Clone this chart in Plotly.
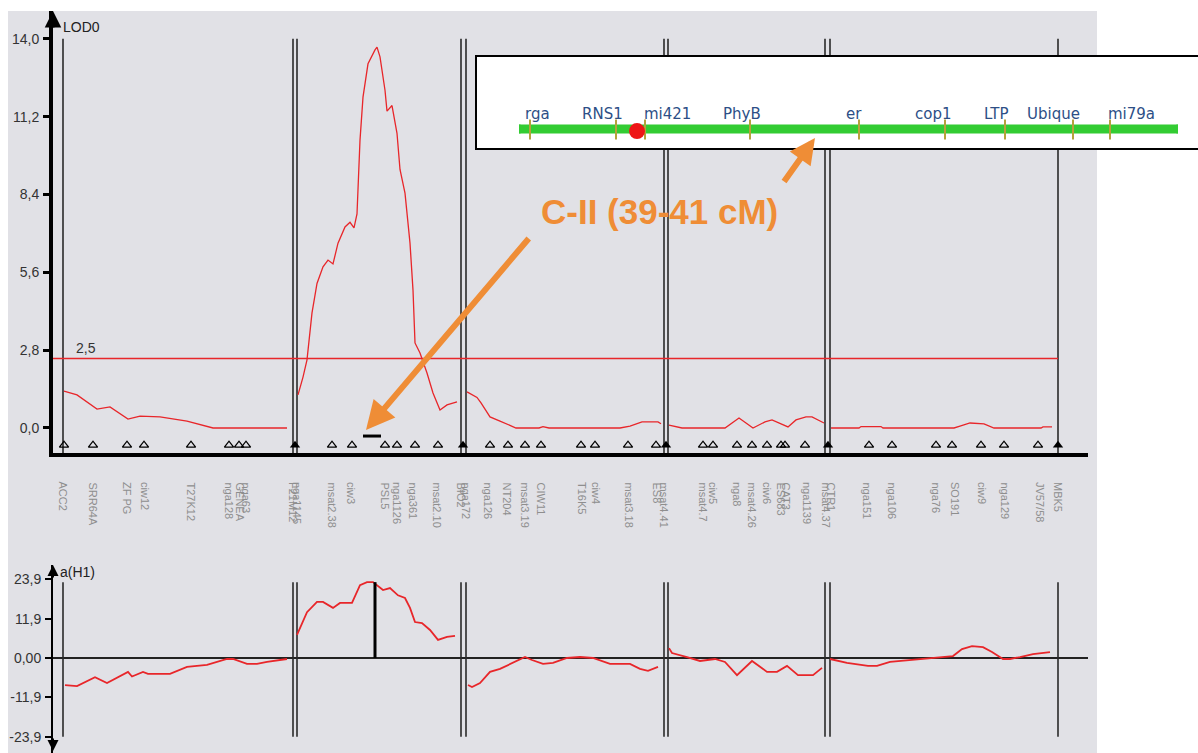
import plotly.graph_objects as go

W, H = 1198, 753

# ---------------- data ----------------
# chromosome (linkage group) extents on cumulative position scale
lg_start = [63, 297, 466, 668, 830]
lg_end = [293, 461, 664, 825, 1058]

# LOD profile per linkage group (position, LOD)
lod_pos = [
    [64, 77, 97, 110, 128, 140, 160, 187, 213, 287],
    [298, 303, 307, 312, 317, 323, 328, 333, 338, 345, 350, 354, 357, 360, 363, 368, 375, 377, 380,
     385, 387, 392, 397, 400, 405, 410, 413, 415, 420, 427, 433, 440, 447, 457],
    [467, 477, 481, 490, 500, 516, 539, 543, 549, 620, 630, 642, 658, 661],
    [669, 682, 725, 739, 753, 765, 772, 788, 796, 806, 812, 824],
    [831, 859, 861, 881, 883, 954, 960, 970, 984, 994, 1041, 1043, 1052],
]
lod_val = [
    [1.33, 1.19, 0.68, 0.76, 0.32, 0.43, 0.40, 0.25, 0.0, 0.0],
    [1.19, 1.83, 2.45, 4.14, 5.20, 5.80, 6.04, 5.90, 6.65, 7.23, 7.40, 7.20, 7.70, 10.35, 11.90, 13.10,
     13.60, 13.70, 13.35, 12.15, 11.40, 11.60, 10.60, 9.30, 8.45, 6.65, 4.96, 3.06, 2.70, 1.98, 1.26,
     0.65, 0.83, 0.94],
    [1.30, 1.10, 0.90, 0.40, 0.25, 0.0, 0.0, 0.05, 0.0, 0.0, 0.07, 0.22, 0.22, 0.15],
    [0.10, 0.0, 0.0, 0.36, 0.0, 0.22, 0.29, 0.04, 0.29, 0.40, 0.40, 0.18],
    [0.0, 0.0, 0.05, 0.05, 0.0, 0.0, 0.07, 0.18, 0.15, 0.0, 0.0, 0.04, 0.04],
]
lod_threshold = 2.5

# additive effect a(H1) per linkage group
eff_pos = [
    [65, 77, 95, 107, 128, 132, 143, 148, 170, 187, 207, 227, 233, 247, 257, 267, 287],
    [297, 307, 317, 323, 333, 340, 352, 355, 360, 367, 373, 383, 390, 398, 405, 410, 415, 422, 430,
     438, 447, 455],
    [468, 472, 480, 490, 500, 513, 525, 532, 543, 553, 567, 580, 593, 610, 630, 640, 648, 658],
    [669, 672, 687, 700, 715, 725, 737, 752, 767, 777, 787, 798, 813, 822],
    [830, 847, 868, 877, 890, 913, 927, 947, 953, 962, 972, 983, 992, 1003, 1010, 1020, 1033, 1050],
]
eff_val = [
    [-8.2, -8.5, -5.8, -7.6, -4.2, -5.6, -4.2, -4.8, -4.8, -2.7, -2.1, -0.3, -0.3, -1.8, -1.8, -1.2, -0.3],
    [7.0, 13.9, 17.0, 17.0, 15.2, 16.7, 16.7, 18.8, 22.1, 23.0, 23.0, 20.6, 21.2, 19.0, 18.2, 15.2,
     10.9, 10.6, 8.5, 5.5, 6.4, 6.7],
    [-8.2, -8.8, -7.6, -4.2, -3.3, -1.5, 0.3, -0.6, -1.8, -1.5, 0.0, 0.3, 0.0, -1.8, -1.8, -3.3, -3.9, -2.7],
    [3.0, 1.5, 0.3, -0.9, -0.3, -1.2, -5.2, -0.9, -4.2, -4.2, -2.4, -5.2, -5.2, -3.0],
    [-0.3, -1.5, -2.4, -2.4, -1.2, -0.6, -0.3, 0.3, 0.6, 2.7, 3.6, 3.3, 1.8, -0.3, -0.3, 0.3, 1.2, 1.8],
]

# markers on the map axis
marker_pos = [64, 93, 127, 144, 191, 229, 239, 246, 332, 352, 385, 397, 415, 438, 490, 508, 525, 541,
              581, 595, 628, 656, 703, 713, 737, 752, 767, 781, 785, 805, 869, 892, 936, 952, 981,
              1004, 1038]
boundary_marker_pos = [295, 463, 666, 828, 1058]
marker_label_pos = [63, 93, 127, 145, 191, 229, 240, 246, 293, 297, 332, 351, 385, 397, 413, 437,
                    461, 466, 488, 507, 525, 541, 582, 596, 629, 657, 664, 703, 713, 737, 752, 767,
                    781, 786, 807, 826, 831, 867, 892, 936, 955, 982, 1005, 1040, 1058]
marker_label = ["ACC2", "SRR64A", "ZF PG", "ciw12", "T27K12", "nga128", "GENEA", "nga63",
                "F21M12", "nga1145", "msat2.38", "ciw3", "PSL5", "nga1126", "nga361", "msat2.10",
                "BIO2", "nga172", "nga126", "NT204", "msat3.19", "CIW11", "T16K5", "ciw4",
                "msat3.18", "ES8", "msat4.41", "msat4.7", "ciw5", "nga8", "msat4.26", "ciw6",
                "ES683", "CAT3", "nga1139", "msat4.37", "CTR1", "nga151", "nga106", "nga76",
                "SO191", "ciw9", "nga129", "JV57/58", "MBK5"]

# QTL peak and support interval
peak_pos = 375
peak_effect = 23.0
support_interval = [363, 381]

lod_ticks = [0.0, 2.8, 5.6, 8.4, 11.2, 14.0]
lod_ticktext = ["0,0", "2,8", "5,6", "8,4", "11,2", "14,0"]
eff_ticks = [23.9, 11.9, 0.0, -11.9, -23.9]
eff_ticktext = ["23,9", "11,9", "0,00", "-11,9", "-23,9"]

# inset genetic map of chromosome II
map_start, map_end = 519, 1178
map_marker_pos = [530, 616, 645, 750, 859, 945, 1005, 1073, 1110]
map_label_pos = [537, 602, 667, 742, 854, 933, 996, 1053, 1131]
map_label = ["rga", "RNS1", "mi421", "PhyB", "er", "cop1", "LTP", "Ubique", "mi79a"]
map_qtl_pos = 637

# ---------------- figure ----------------
RED = "#e8262a"
ORANGE = "#EF8D36"
fig = go.Figure()

def px_x(p):
    return p / W

def px_y(p):
    return 1 - p / H

# chromosome boundary lines (top & bottom)
bx, by, by2 = [], [], []
for s, e in zip(lg_start, lg_end):
    for b in (s, e):
        bx += [b, b, None]
        by += [-0.9, 14.0, None]
        by2 += [-23.9, 23.0, None]
fig.add_trace(go.Scatter(x=bx, y=by, mode="lines", line=dict(color="#2a2a2a", width=1.6),
                         xaxis="x", yaxis="y", hoverinfo="skip", showlegend=False))
fig.add_trace(go.Scatter(x=bx, y=by2, mode="lines", line=dict(color="#2a2a2a", width=1.6),
                         xaxis="x2", yaxis="y2", hoverinfo="skip", showlegend=False))

# threshold
fig.add_trace(go.Scatter(x=[53, lg_end[-1]], y=[lod_threshold, lod_threshold], mode="lines",
                         line=dict(color=RED, width=1.5), xaxis="x", yaxis="y",
                         hoverinfo="skip", showlegend=False))

# LOD profiles
for xs, ys in zip(lod_pos, lod_val):
    fig.add_trace(go.Scatter(x=xs, y=ys, mode="lines", line=dict(color=RED, width=1.3),
                             xaxis="x", yaxis="y", showlegend=False))

# effect profiles
for xs, ys in zip(eff_pos, eff_val):
    fig.add_trace(go.Scatter(x=xs, y=ys, mode="lines", line=dict(color=RED, width=1.8),
                             xaxis="x2", yaxis="y2", showlegend=False))

# peak effect bar
fig.add_trace(go.Scatter(x=[peak_pos, peak_pos], y=[0, peak_effect], mode="lines",
                         line=dict(color="black", width=3), xaxis="x2", yaxis="y2",
                         hoverinfo="skip", showlegend=False))

# support interval
fig.add_trace(go.Scatter(x=support_interval, y=[-0.29, -0.29], mode="lines",
                         line=dict(color="black", width=3), xaxis="x", yaxis="y",
                         hoverinfo="skip", showlegend=False))

# markers
fig.add_trace(go.Scatter(x=marker_pos, y=[-0.62] * len(marker_pos), mode="markers",
                         marker=dict(symbol="triangle-up-open", size=8, color="black",
                                     line=dict(width=1.3, color="black")),
                         xaxis="x", yaxis="y", cliponaxis=False, showlegend=False))
fig.add_trace(go.Scatter(x=boundary_marker_pos, y=[-0.62] * len(boundary_marker_pos), mode="markers",
                         marker=dict(symbol="triangle-up", size=9, color="black"),
                         xaxis="x", yaxis="y", cliponaxis=False, showlegend=False))

shapes = []
# gray background
shapes.append(dict(type="rect", xref="paper", yref="paper", x0=px_x(8), x1=px_x(1097),
                   y0=0, y1=px_y(11), fillcolor="#e1e1e6", line=dict(width=0), layer="below"))
# inset box
shapes.append(dict(type="rect", xref="paper", yref="paper", x0=px_x(476), x1=px_x(1205),
                   y0=px_y(149), y1=px_y(56), fillcolor="white",
                   line=dict(color="black", width=2), layer="above"))
# green chromosome bar
shapes.append(dict(type="line", xref="x3", yref="y3", x0=map_start, x1=map_end, y0=0, y1=0,
                   line=dict(color="#33cc33", width=9), layer="above"))
for xe in (map_start, map_end):
    shapes.append(dict(type="circle", xref="x3", yref="y3", xsizemode="pixel", ysizemode="pixel",
                       xanchor=xe, yanchor=0, x0=-4.5, x1=4.5, y0=-4.5, y1=4.5,
                       fillcolor="#33cc33", line=dict(width=0), layer="above"))
for mp in map_marker_pos:
    shapes.append(dict(type="line", xref="x3", yref="y3", x0=mp, x1=mp, y0=-0.5, y1=0.45,
                       line=dict(color="#b5a23a", width=2), layer="above"))
shapes.append(dict(type="circle", xref="x3", yref="y3", xsizemode="pixel", ysizemode="pixel",
                   xanchor=map_qtl_pos, yanchor=-0.1, x0=-8, x1=8, y0=-8, y1=8,
                   fillcolor="#ee1515", line=dict(width=0), layer="above"))

annotations = []
for p, t in zip(marker_label_pos, marker_label):
    annotations.append(dict(x=p, xref="x", y=px_y(480), yref="paper", text=t, textangle=90,
                            xanchor="center", yanchor="top", showarrow=False,
                            font=dict(family="Liberation Sans", size=11, color="#8e8e8e")))
for p, t in zip(map_label_pos, map_label):
    annotations.append(dict(x=p, xref="x3", y=0.72, yref="y3", text=t, xanchor="center",
                            yanchor="middle", showarrow=False,
                            font=dict(family="DejaVu Sans", size=15, color="#2d4f86")))

# axis labels
annotations.append(dict(x=px_x(61), y=px_y(27), xref="paper", yref="paper", text="LOD0",
                        xanchor="left", yanchor="middle", showarrow=False,
                        font=dict(family="Liberation Sans", size=14, color="#222")))
annotations.append(dict(x=px_x(58), y=px_y(572), xref="paper", yref="paper", text="a(H1)",
                        xanchor="left", yanchor="middle", showarrow=False,
                        font=dict(family="Liberation Sans", size=14, color="#222")))
annotations.append(dict(x=px_x(74), y=px_y(348), xref="paper", yref="paper", text="2,5",
                        xanchor="left", yanchor="middle", showarrow=False,
                        font=dict(family="Liberation Sans", size=14, color="#333")))

# axis arrowheads
arrow = dict(text="", showarrow=True, arrowhead=2, arrowcolor="black", arrowsize=1.1,
             axref="pixel", ayref="pixel")
annotations.append(dict(arrow, x=53, xref="x", y=15.0, yref="y", ax=0, ay=18, arrowwidth=3))
annotations.append(dict(arrow, x=1093, xref="x", y=-0.9, yref="y", ax=-18, ay=0, arrowwidth=3))
annotations.append(dict(arrow, x=53, xref="x2", y=28.2, yref="y2", ax=0, ay=14, arrowwidth=2))
annotations.append(dict(arrow, x=53, xref="x2", y=-28.2, yref="y2", ax=0, ay=-14, arrowwidth=2))
annotations.append(dict(arrow, x=1090, xref="x2", y=0, yref="y2", ax=-14, ay=0, arrowwidth=2))

# orange call-outs
annotations.append(dict(x=px_x(366), y=px_y(430), xref="paper", yref="paper", text="",
                        showarrow=True, ax=164, ay=-193, arrowcolor=ORANGE, arrowwidth=6,
                        arrowhead=2, arrowsize=0.95))
annotations.append(dict(x=px_x(815), y=px_y(138), xref="paper", yref="paper", text="",
                        showarrow=True, ax=-32, ay=45, arrowcolor=ORANGE, arrowwidth=6,
                        arrowhead=2, arrowsize=0.85))
annotations.append(dict(x=px_x(659), y=px_y(212), xref="paper", yref="paper",
                        text="<b>C-II (39-41 cM)</b>", showarrow=False, xanchor="center",
                        yanchor="middle",
                        font=dict(family="Liberation Sans", size=35, color=ORANGE)))

xdom = [53 / W, 1088 / W]
axis_common = dict(showgrid=False, zeroline=False)
fig.update_layout(
    width=W, height=H, margin=dict(l=0, r=0, t=0, b=0),
    paper_bgcolor="white", plot_bgcolor="rgba(0,0,0,0)",
    showlegend=False, separators=",.",
    xaxis=dict(axis_common, domain=xdom, range=[53, 1088], anchor="y", showline=True,
               linewidth=4, linecolor="black", showticklabels=False, ticks=""),
    yaxis=dict(axis_common, domain=[(H - 453) / H, (H - 11) / H], range=[-0.9, 15.0], anchor="x",
               showline=True, linewidth=4, linecolor="black", ticks="outside", ticklen=6,
               tickwidth=3, tickcolor="black", tickvals=lod_ticks, ticktext=lod_ticktext,
               ticklabelstandoff=1,
               tickfont=dict(family="Liberation Sans", size=14, color="#333")),
    xaxis2=dict(axis_common, domain=xdom, range=[53, 1088], anchor="y2", matches="x",
                showline=False, showticklabels=False, ticks=""),
    yaxis2=dict(showgrid=False, domain=[0, (H - 565) / H], range=[-28.8, 28.2], anchor="x2",
                showline=True, linewidth=2, linecolor="black", zeroline=True,
                zerolinecolor="#222", zerolinewidth=2, ticks="outside", ticklen=6, tickwidth=2,
                tickcolor="black", tickvals=eff_ticks, ticktext=eff_ticktext,
                ticklabelstandoff=1,
                tickfont=dict(family="Liberation Sans", size=14, color="#333")),
    xaxis3=dict(axis_common, domain=[map_start / W, map_end / W], range=[map_start, map_end],
                anchor="y3", visible=False),
    yaxis3=dict(axis_common, domain=[(H - 150) / H, (H - 108) / H], range=[-1, 1], anchor="x3",
                visible=False),
    shapes=shapes, annotations=annotations,
)

fig.write_html("out.html", config={"displayModeBar": False},
               post_script="document.body.style.margin='0';document.body.style.overflow='hidden';")
